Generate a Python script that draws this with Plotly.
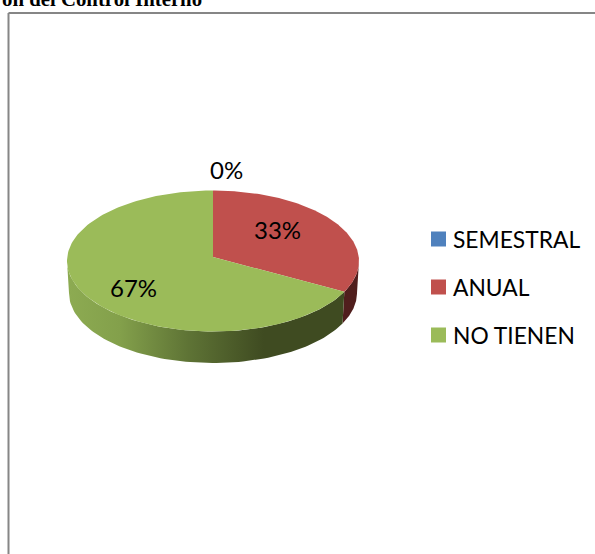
"""Tilted 3-D style pie: Periodicidad de evaluación del control interno."""
import numpy as np
import plotly.graph_objects as go

categories = ["SEMESTRAL", "ANUAL", "NO TIENEN"]
values = [0, 33, 67]

_FACE = ["#4f81bd", "#c0504d", "#9bbb59"]
_WALL = ["#2f4d71", "#501e1d", "#3f4b21"]
_GREEN_WALL = [
    [0.0, "#8dab52"], [0.19, "#83a04b"], [0.44, "#5e7335"],
    [0.71, "#3f4b21"], [1.0, "#3f4b21"],
]
_FRAME = "#868686"
_FONT = "Lato, Carlito, sans-serif"

# pie geometry in page pixels (axes run 1:1 with the page)
CX, CY, RX, RY = 213, 261, 146, 70.5
CX2, CY2, RX2, RY2 = 213, 293, 144, 70
TILT = -0.057  # moves the apex up off the ellipse centre, as perspective does

LABEL_POS = [(226.5, 169.5), (277.5, 229.5), (133.5, 287.5)]
LEGEND_X, LEGEND_TEXT_X, LEGEND_Y = 438.5, 452, [239, 287, 335]


def _rim(theta, cx, cy, rx, ry):
    """Point on a rim for a clockwise angle from 12 o'clock."""
    u, v = np.sin(theta), -np.cos(theta)
    d = 1 + TILT * v
    return cx + rx * u * np.sqrt(1 - TILT ** 2) / d, cy + ry * (v + TILT) / d


fig = go.Figure()

edges = np.concatenate([[0], np.cumsum(values)]) / sum(values) * 2 * np.pi
front_a = np.arccos(TILT)
front_b = 2 * np.pi - front_a

# side walls first, top faces go over them
for i, name in enumerate(categories):
    a, b = max(edges[i], front_a), min(edges[i + 1], front_b)
    if b <= a:
        continue
    t = np.linspace(a, b, 90)
    x1, y1 = _rim(t, CX, CY, RX, RY)
    x2, y2 = _rim(t[::-1], CX2, CY2, RX2, RY2)
    style = dict(fillcolor=_WALL[i])
    if name == "NO TIENEN":
        style = dict(fillgradient=dict(type="horizontal", colorscale=_GREEN_WALL))
    fig.add_trace(go.Scatter(
        x=np.concatenate([x1, x2]), y=np.concatenate([y1, y2]),
        mode="lines", fill="toself", line=dict(width=0),
        hoverinfo="skip", **style,
    ))

apex_y = CY + RY * TILT
for i, name in enumerate(categories):
    t = np.linspace(edges[i], edges[i + 1], 160)
    x, y = _rim(t, CX, CY, RX, RY)
    fig.add_trace(go.Scatter(
        x=np.concatenate([[CX], x, [CX]]), y=np.concatenate([[apex_y], y, [apex_y]]),
        mode="lines", fill="toself", fillcolor=_FACE[i], line=dict(width=0),
        name=name, hoverinfo="name",
    ))

# legend, drawn by hand so spacing follows the original
for i, name in enumerate(categories):
    fig.add_trace(go.Scatter(
        x=[LEGEND_X], y=[LEGEND_Y[i]], mode="markers",
        marker=dict(symbol="square", size=15, color=_FACE[i]),
        hoverinfo="skip",
    ))
    fig.add_annotation(
        x=LEGEND_TEXT_X, y=LEGEND_Y[i] - 0.5, text=name, showarrow=False, xanchor="left",
        borderpad=0, font=dict(family=_FONT, size=22.8, color="#000000"),
    )

for (lx, ly), v in zip(LABEL_POS, values):
    fig.add_annotation(
        x=lx, y=ly, text=f"{v}%", showarrow=False,
        font=dict(family=_FONT, size=24, color="#000000"),
    )

# the heading runs off the top of the crop in the original as well
fig.add_annotation(
    x=203, y=11, text="<b>ón del Control Interno</b>", showarrow=False,
    xanchor="right", yanchor="bottom", borderpad=0,
    font=dict(family="Liberation Serif", size=20.8, color="#000000"),
)

# chart-area frame: only top and left edges fall inside the crop
fig.add_shape(type="line", x0=8.5, x1=595, y0=13, y1=13, line=dict(color=_FRAME, width=2))
fig.add_shape(type="line", x0=8.5, x1=8.5, y0=13, y1=554, line=dict(color=_FRAME, width=2))

fig.update_xaxes(range=[0, 595], visible=False, fixedrange=True)
fig.update_yaxes(range=[554, 0], visible=False, fixedrange=True)
fig.update_layout(
    width=595, height=554, showlegend=False,
    margin=dict(l=0, r=0, t=0, b=0, pad=0),
    paper_bgcolor="#ffffff", plot_bgcolor="#ffffff",
)

fig.write_html(
    "out.html", config=dict(displayModeBar=False),
    post_script="document.body.style.margin = '0';",
)
